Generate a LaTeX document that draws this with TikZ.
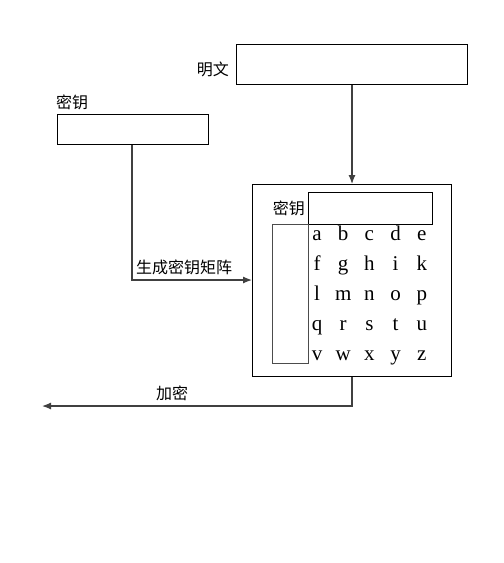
\documentclass[tikz,border=0pt]{standalone}
\usepackage{fontspec}
\setmainfont{Liberation Serif}
\newfontfamily\cjk{Noto Sans CJK SC}
\usetikzlibrary{arrows.meta}
\begin{document}
\begin{tikzpicture}[x=1pt,y=-1pt,
  box/.style={draw=black,line width=1.2pt,inner sep=0pt,anchor=north west},
  lbl/.style={font=\cjk\fontsize{16}{16}\selectfont,inner sep=0pt},
  letter/.style={font=\fontsize{21}{21}\selectfont,inner sep=0pt,anchor=base},
  wire/.style={draw=black!75,line width=1.2pt},
  tip/.style={-{Latex[length=9pt,width=7pt]}}]
\useasboundingbox (0,0) rectangle (504,563);

% input boxes
\node[box,minimum width=231pt,minimum height=40pt] (plain) at (236,44) {};
\node[lbl,anchor=east] (plainlbl) at (229,69) {明文};
\node[box,minimum width=151pt,minimum height=30pt] (key) at (57,114) {};
\node[lbl,anchor=west] (keylbl) at (56,102) {密钥};

% matrix block
\node[box,minimum width=199pt,minimum height=192pt] (outer) at (252,184) {};
\node[box,minimum width=124pt,minimum height=32pt] (keyrow) at (308,192) {};
\node[box,draw=black!70,minimum width=36pt,minimum height=139pt] (keycol) at (272,224) {};
\node[lbl,anchor=east] (innerlbl) at (305,208) {密钥};

% letters of the 5x5 grid
\foreach \r/\row in {0/{a,b,c,d,e},1/{f,g,h,i,k},2/{l,m,n,o,p},3/{q,r,s,t,u},4/{v,w,x,y,z}}{
  \foreach \ch [count=\c from 0] in \row {
    \node[letter] (m-\r-\c) at (317+26.2*\c,240+30.2*\r) {\ch};
  }
}

% connectors
\draw[wire,tip] (plain.south -| 352,84) -- (outer.north -| 352,184);
\draw[wire,tip] (key.south -| 132,144) -- (132,280) -- (outer.west |- 0,280);
\node[lbl,anchor=west] (genlbl) at (136,267) {生成密钥矩阵};
\coordinate (out) at (42,406);
\draw[wire,tip] (outer.south -| 352,376) -- (352,406) -- (out);
\node[lbl] (enclbl) at (172,393) {加密};
\end{tikzpicture}
\end{document}
